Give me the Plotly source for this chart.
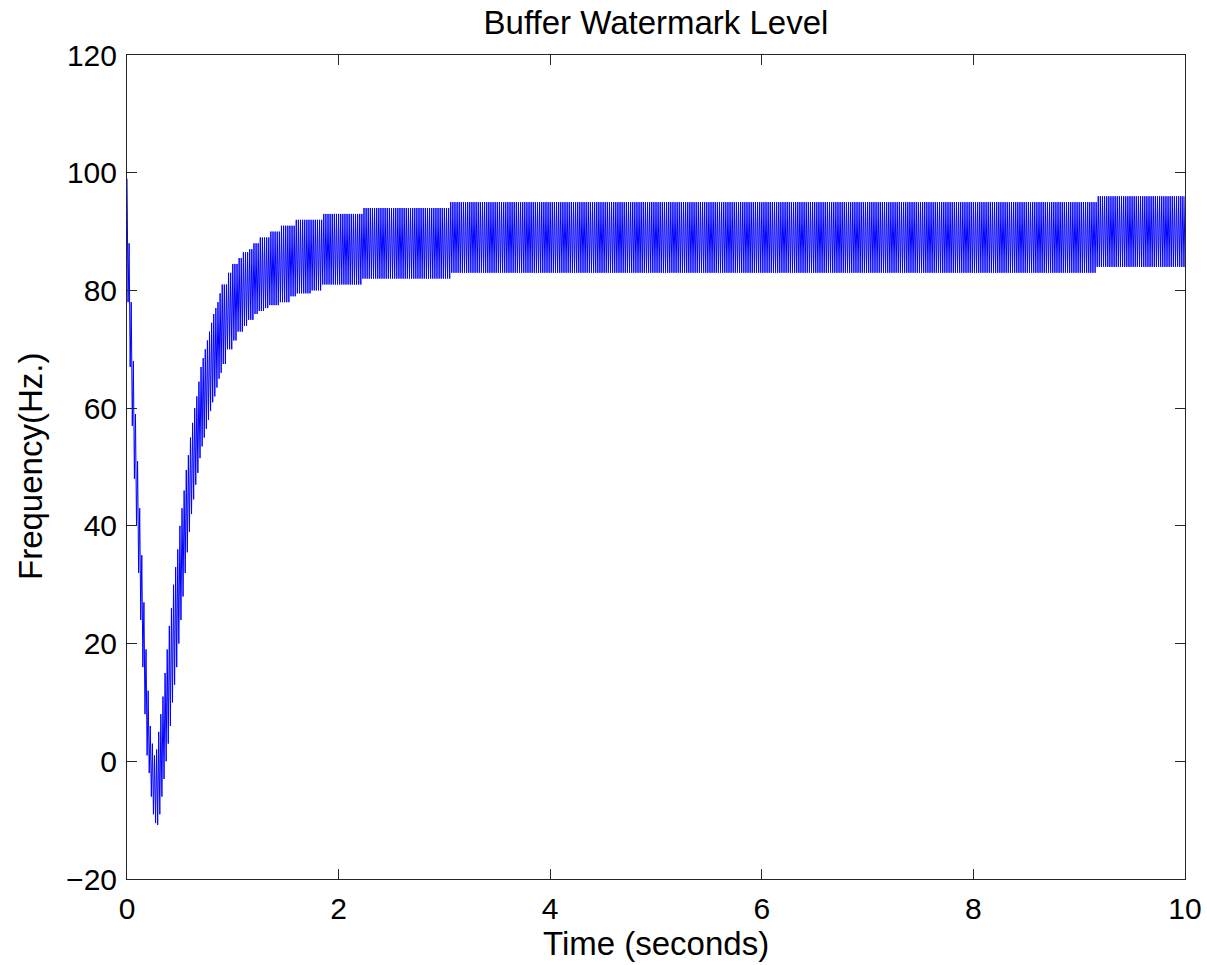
import numpy as np
import plotly.graph_objects as go

# Envelope knots (seconds, Hz.) - step-held between knots
t_knots = [0.00, 0.02, 0.04, 0.06, 0.08, 0.10, 0.12, 0.14, 0.16, 0.18,
           0.20, 0.22, 0.24, 0.26, 0.28, 0.30, 0.32, 0.34, 0.36, 0.38,
           0.40, 0.42, 0.44, 0.46, 0.48, 0.50, 0.52, 0.54, 0.56, 0.58,
           0.60, 0.62, 0.64, 0.66, 0.68, 0.70, 0.72, 0.74, 0.76, 0.78,
           0.80, 0.82, 0.84, 0.86, 0.88, 0.90, 0.95, 1.00, 1.05, 1.10,
           1.15, 1.20, 1.25, 1.30, 1.35, 1.45, 1.55, 1.60, 1.75, 1.85,
           2.23, 3.06, 9.17]
upper = [99, 88, 78, 68, 59, 51, 43, 35, 27, 19,
         12, 6, 3, 1, 2, 5, 8, 11, 15, 19,
         23, 26, 30, 33, 36, 40, 43, 46, 49.5, 52,
         55, 57.5, 60, 62, 64.5, 67, 68.5, 70, 71.5, 73,
         74.5, 76, 77, 78, 79.5, 81, 83, 84.5, 85.5, 86.5,
         87, 88, 89, 89, 90, 91, 91, 92, 92, 93,
         94, 95, 96]
lower = [78, 67, 57, 48, 40, 32, 24, 16, 8, 1,
         -2, -6, -9, -10.5, -10.8, -9, -6, -3, 0, 3,
         6, 10, 13, 16, 20, 24, 28, 32, 35.5, 39,
         42, 44.5, 47, 49, 51.5, 53.5, 55, 56.5, 58, 59.5,
         61, 62, 63.5, 65, 66, 67.5, 70, 71.5, 73, 74,
         75, 76, 76.5, 77, 77.5, 78, 79, 79.5, 80, 81,
         82, 83, 84]

# Oscillation sampling (half-period of the watermark toggling)
dt = 0.01
t_end = 10.0

x_ticks = [0, 2, 4, 6, 8, 10]
y_ticks = [-20, 0, 20, 40, 60, 80, 100, 120]

t = np.arange(0, t_end + 1e-9, dt)
idx = np.searchsorted(np.array(t_knots), t, side="right") - 1
vals = np.where(np.arange(len(t)) % 2 == 0, np.array(upper)[idx], np.array(lower)[idx])

FONT = "Liberation Sans, Arial, Helvetica, sans-serif"
AX = "#262626"

fig = go.Figure()
fig.add_trace(go.Scatter(x=t, y=vals, mode="lines",
                         line=dict(color="#0000ff", width=1), hoverinfo="skip"))

axis_common = dict(showgrid=False, zeroline=False, showline=True, linecolor=AX,
                   linewidth=1, mirror="ticks", ticks="inside", ticklen=10,
                   tickcolor=AX, tickwidth=1, automargin=False,
                   ticklabeloverflow="allow",
                   tickfont=dict(family=FONT, size=30, color="black"))
fig.update_xaxes(range=[0, 10], tickvals=x_ticks, ticklabelstandoff=3, **axis_common)
fig.update_yaxes(range=[-20, 120], tickvals=y_ticks, ticklabelstandoff=3, **axis_common)

fig.update_layout(
    width=1207, height=965,
    margin=dict(l=127, r=22, t=55, b=86, autoexpand=False),
    plot_bgcolor="white", paper_bgcolor="white",
    showlegend=False,
    font=dict(family=FONT, color="black"),
    title=dict(text="Buffer Watermark Level", x=0.5, xref="paper", xanchor="center",
               y=1 - 22 / 965, yref="container", yanchor="middle",
               font=dict(family=FONT, size=33, color="black")),
    annotations=[
        dict(text="Time (seconds)", x=0.5, y=(879 - 943) / 824, xref="paper", yref="paper",
             xanchor="center", yanchor="middle", showarrow=False,
             font=dict(family=FONT, size=33, color="black")),
        dict(text="Frequency(Hz.)", x=(30 - 127) / 1058, y=0.5, xref="paper", yref="paper",
             xanchor="center", yanchor="middle", showarrow=False, textangle=-90,
             font=dict(family=FONT, size=33, color="black")),
    ],
)

fig.write_html("out.html")
